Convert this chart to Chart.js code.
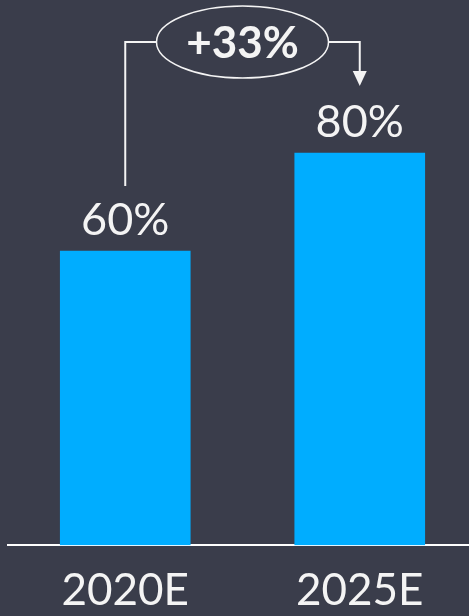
<!DOCTYPE html>
<html>
<head>
<meta charset="utf-8">
<script src="https://cdn.jsdelivr.net/npm/chart.js@4"></script>
<style>
  html, body { margin: 0; padding: 0; background: #3a3d4b; overflow: hidden; }
  #wrap { position: relative; width: 477px; height: 616px; }
</style>
</head>
<body>
<div id="wrap"><canvas id="shareChart"></canvas></div>
<script>
const categories = ['2020E', '2025E'];
const shares = [60, 80];
const valueLabels = ['60%', '80%'];
const growthLabel = '+33%';

const BG = '#3a3d4b';
const TEXT = '#f4f4f4';
const FONT = 'Lato, "Noto Sans", sans-serif';

// background + value labels + growth bracket
const overlay = {
    id: 'overlay',
    beforeDraw(chart) {
        const c = chart.ctx;
        c.save();
        c.fillStyle = BG;
        c.fillRect(0, 0, chart.width, chart.height);
        c.restore();
    },
    afterDatasetsDraw(chart) {
        const c = chart.ctx;
        const meta = chart.getDatasetMeta(0);
        const bars = meta.data;
        c.save();
        c.fillStyle = TEXT;
        c.font = '45px ' + FONT;
        c.textAlign = 'center';
        c.textBaseline = 'middle';
        bars.forEach((bar, i) => {
            c.fillText(valueLabels[i], bar.x, bar.y - 31);
        });

        const x1 = bars[0].x, x2 = bars[1].x;
        const yTop = chart.chartArea.top - 13;
        const cx = (x1 + x2) / 2;
        const rx = 86, ry = 36;

        c.strokeStyle = TEXT;
        c.lineWidth = 2;
        c.beginPath();
        c.moveTo(x1, bars[0].y - 65);
        c.lineTo(x1, yTop);
        c.lineTo(cx - rx, yTop);
        c.moveTo(cx + rx, yTop);
        c.lineTo(x2, yTop);
        c.lineTo(x2, bars[1].y - 80);
        c.stroke();

        // arrow head
        const tip = bars[1].y - 67;
        c.fillStyle = TEXT;
        c.beginPath();
        c.moveTo(x2 - 7, tip - 15);
        c.lineTo(x2 + 7, tip - 15);
        c.lineTo(x2, tip);
        c.closePath();
        c.fill();

        // ellipse
        c.beginPath();
        c.ellipse(cx, yTop, rx, ry, 0, 0, Math.PI * 2);
        c.fillStyle = BG;
        c.fill();
        c.lineWidth = 1.5;
        c.stroke();

        c.fillStyle = TEXT;
        c.font = 'bold 44px ' + FONT;
        c.fillText(growthLabel, cx, yTop + 2);
        c.restore();
    }
};

const ctx = document.getElementById('shareChart').getContext('2d');
const shareChart = new Chart(ctx, {
    type: 'bar',
    data: {
        labels: categories,
        datasets: [{
            data: shares,
            backgroundColor: '#00adff',
            borderWidth: 0,
            barThickness: 130
        }]
    },
    options: {
        responsive: true,
        maintainAspectRatio: false,
        animation: false,
        layout: { padding: { top: 55, left: 8, right: 0, bottom: -20 } },
        plugins: {
            legend: { display: false },
            tooltip: { enabled: false }
        },
        scales: {
            x: {
                grid: { display: false, drawTicks: false },
                border: { display: true, color: '#ffffff', width: 2 },
                ticks: {
                    color: TEXT,
                    padding: 19,
                    font: { family: FONT, size: 44, lineHeight: 1.2 }
                }
            },
            y: {
                display: false,
                min: 0,
                max: 100
            }
        }
    },
    plugins: [overlay]
});
</script>
</body>
</html>
